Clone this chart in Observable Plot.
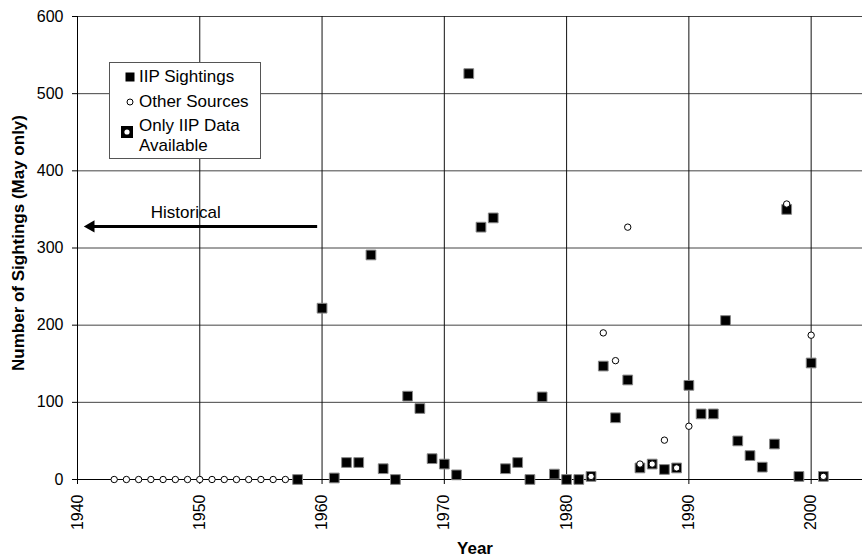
<!DOCTYPE html>
<html>
<head>
<meta charset="utf-8">
<script src="https://cdn.jsdelivr.net/npm/d3@7"></script>
<script src="https://cdn.jsdelivr.net/npm/@observablehq/plot@0.6"></script>
<style>
  body { margin: 0; background: #fff; }
  #wrap { position: relative; width: 862px; height: 558px; font-family: "Liberation Sans", Arial, sans-serif; }
  #legend { position: absolute; left: 109px; top: 62px; width: 152px; height: 97px; border: 1px solid #555; background: #fff; font-size: 17px; color: #000; box-sizing: border-box; }
  .item { position: absolute; left: 0; white-space: nowrap; }
  .item svg { position: absolute; }
  .item span { position: absolute; left: 29px; line-height: 20px; }
</style>
</head>
<body>
<div id="wrap"></div>
<script>
// ---- data ----
const iipYears = [1958,1960,1961,1962,1963,1964,1965,1966,1967,1968,1969,1970,1971,1972,1973,1974,1975,1976,1977,1978,1979,1980,1981,1983,1984,1985,1986,1988,1990,1991,1992,1993,1994,1995,1996,1997,1998,1999,2000];
const iipValues = [0,222,2,22,22,291,14,0,108,92,27,20,6,526,327,339,14,22,0,107,7,0,0,147,80,129,15,13,122,85,85,206,50,31,16,46,350,4,151];

const otherYears = [1943,1944,1945,1946,1947,1948,1949,1950,1951,1952,1953,1954,1955,1956,1957,1983,1984,1985,1986,1988,1990,1998,2000];
const otherValues = [0,0,0,0,0,0,0,0,0,0,0,0,0,0,0,190,154,327,20,51,69,357,187];

const onlyIipYears = [1982,1987,1989,2001];
const onlyIipValues = [4,20,15,4];

const xTicks = [1940,1950,1960,1970,1980,1990,2000];
const yTicks = [0,100,200,300,400,500,600];

const historicalLabel = "Historical";
const historicalFrom = 1959.6;
const historicalTo = 1941.1;
const historicalValue = 328;

const xTitle = "Year";
const yTitle = "Number of Sightings (May only)";
const legendLabels = ["IIP Sightings", "Other Sources", "Only IIP Data", "Available"];

// ---- tables ----
const iip = iipYears.map((y, i) => ({year: y, value: iipValues[i]}));
const other = otherYears.map((y, i) => ({year: y, value: otherValues[i]}));
const onlyIip = onlyIipYears.map((y, i) => ({year: y, value: onlyIipValues[i]}));
const arrow = [{x1: historicalFrom, x2: historicalTo, y: historicalValue}];

const font = "'Liberation Sans', Arial, sans-serif";

const chart = Plot.plot({
  width: 862,
  height: 558,
  marginLeft: 77,
  marginRight: 0,
  marginTop: 16,
  marginBottom: 79,
  x: {domain: [1940, 2004.2]},
  y: {domain: [0, 600]},
  style: {fontFamily: font, fontSize: "16px", color: "#000", background: "#fff", overflow: "visible"},
  marks: [
    Plot.gridY(yTicks.filter(d => d > 0), {stroke: "#444", strokeOpacity: 1, strokeWidth: 1}),
    Plot.gridX(xTicks.filter(d => d > 1940), {stroke: "#111", strokeOpacity: 1, strokeWidth: 1}),
    Plot.ruleY([0], {stroke: "#000", strokeWidth: 1}),
    Plot.ruleX([1940], {stroke: "#000", strokeWidth: 1}),
    Plot.axisY(yTicks, {tickSize: 5, tickPadding: 9, label: null, fontSize: 16}),
    Plot.axisX(xTicks, {tickSize: 5, tickPadding: 10, tickRotate: -90, label: null, fontSize: 16, tickFormat: d => String(d)}),
    Plot.text([yTitle], {frameAnchor: "left", textAnchor: "middle", lineAnchor: "middle", rotate: -90, dx: -59, dy: -5, fontWeight: "bold", fontSize: 17, fill: "#000"}),
    Plot.text([xTitle], {frameAnchor: "bottom", textAnchor: "middle", lineAnchor: "middle", dx: 5, dy: 69, fontWeight: "bold", fontSize: 17, fill: "#000"}),
    // Historical arrow
    Plot.link(arrow, {x1: d => d.x1, x2: d => d.x2, y1: "y", y2: "y", stroke: "#000", strokeWidth: 3}),
    Plot.dot(arrow, {x: "x2", y: "y", symbol: "triangle", rotate: -90, r: 4.6, fill: "#000", stroke: "none"}),
    Plot.text(arrow, {x: d => (d.x1 + d.x2) / 2 - 1.5, y: d => d.y, text: () => historicalLabel, dy: -14, fontSize: 17, fill: "#000"}),
    // IIP squares
    Plot.dot(iip, {x: "year", y: "value", symbol: "square", r: 5.5, fill: "#000", stroke: "#888", strokeWidth: 1}),
    // Only IIP: square with white dot
    Plot.dot(onlyIip, {x: "year", y: "value", symbol: "square", r: 5.5, fill: "#000", stroke: "#888", strokeWidth: 1}),
    Plot.dot(onlyIip, {x: "year", y: "value", r: 3.2, fill: "#fff", stroke: "#000", strokeWidth: 1}),
    // Other sources circles
    Plot.dot(other, {x: "year", y: "value", r: 3.2, fill: "#fff", stroke: "#000", strokeWidth: 1})
  ]
});

const wrap = document.getElementById("wrap");
wrap.appendChild(chart);

// legend
const legend = document.createElement("div");
legend.id = "legend";
legend.innerHTML = `
  <div class="item" style="top:4px;height:20px;width:150px">
    <svg width="12" height="12" style="left:14px;top:4px"><rect x="1.5" y="1.5" width="9" height="9" fill="#000"/></svg>
    <span style="top:0">${legendLabels[0]}</span>
  </div>
  <div class="item" style="top:29px;height:20px;width:150px">
    <svg width="12" height="12" style="left:14px;top:4px"><circle cx="6" cy="6" r="3" fill="#fff" stroke="#000" stroke-width="1"/></svg>
    <span style="top:0">${legendLabels[1]}</span>
  </div>
  <div class="item" style="top:53px;height:40px;width:150px">
    <svg width="14" height="14" style="left:10px;top:9px"><rect x="1" y="1" width="12" height="12" fill="#000"/><circle cx="7" cy="7" r="2.6" fill="#fff"/></svg>
    <span style="top:0">${legendLabels[2]}</span>
    <span style="top:20px">${legendLabels[3]}</span>
  </div>`;
wrap.appendChild(legend);
</script>
</body>
</html>
